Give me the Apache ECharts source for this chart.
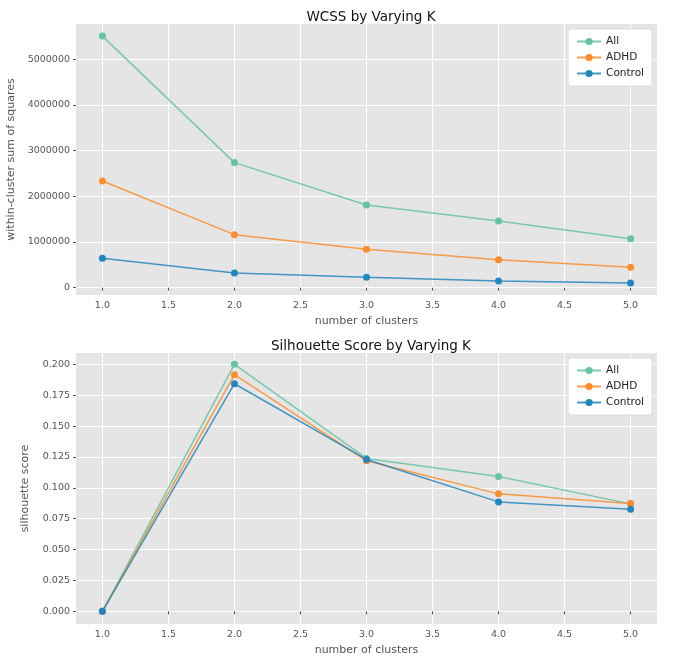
<!DOCTYPE html>
<html>
<head>
<meta charset="utf-8">
<script src="https://cdn.jsdelivr.net/npm/echarts@6/dist/echarts.min.js"></script>
<style>
  html, body { margin: 0; padding: 0; background: #fff; }
  #chart { width: 677px; height: 668px; }
</style>
</head>
<body>
<div id="chart"></div>
<script>
// number of clusters
const ks = [1, 2, 3, 4, 5];

// within-cluster sum of squares
const wcssAll = [5505000, 2737000, 1810000, 1460000, 1073000];
const wcssAdhd = [2336000, 1160000, 840000, 613000, 446000];
const wcssControl = [643000, 322000, 227000, 147000, 103000];

// silhouette score
const silAll = [0.0, 0.200, 0.1238, 0.1092, 0.0870];
const silAdhd = [0.0, 0.1916, 0.1219, 0.0951, 0.0873];
const silControl = [0.0, 0.1843, 0.1230, 0.0886, 0.0827];

const groupNames = ['All', 'ADHD', 'Control'];
const colors = ['#66c2a5', '#fc8d2e', '#2387bd'];

const xTicks = [1.0, 1.5, 2.0, 2.5, 3.0, 3.5, 4.0, 4.5, 5.0];
const wcssTicks = [0, 1000000, 2000000, 3000000, 4000000, 5000000];
const silTicks = [0, 0.025, 0.05, 0.075, 0.1, 0.125, 0.15, 0.175, 0.2];

const font = 'DejaVu Sans';
const tickColor = '#555';

function pairs(ys) {
    return ks.map((k, i) => [k, ys[i]]);
}

function makeX(gridIndex) {
    return {
        type: 'value', gridIndex: gridIndex,
        min: 0.8, max: 5.2,
        name: 'number of clusters', nameLocation: 'middle', nameGap: 21,
        nameTextStyle: { color: tickColor, fontSize: 11, fontFamily: font },
        axisLine: { show: false },
        axisTick: { show: true, length: 3, lineStyle: { color: '#555' }, customValues: xTicks },
        axisLabel: { customValues: xTicks, color: tickColor, fontSize: 9.5, fontFamily: font, margin: 6,
            formatter: v => v.toFixed(1) },
        splitLine: { show: true, lineStyle: { color: '#fff', width: 1 } }
    };
}

function makeY(gridIndex, min, max, ticks, name, gap, fmt) {
    return {
        type: 'value', gridIndex: gridIndex,
        min: min, max: max,
        name: name, nameLocation: 'middle', nameGap: gap,
        nameTextStyle: { color: tickColor, fontSize: 11, fontFamily: font },
        axisLine: { show: false },
        axisTick: { show: true, length: 3, lineStyle: { color: '#555' }, customValues: ticks },
        axisLabel: { customValues: ticks, color: tickColor, fontSize: 9.5, fontFamily: font, margin: 6,
            formatter: fmt },
        splitLine: { show: true, lineStyle: { color: '#fff', width: 1 } }
    };
}

function makeSeries(vals, axisIndex) {
    return vals.map((ys, i) => ({
        name: groupNames[i],
        type: 'line',
        xAxisIndex: axisIndex, yAxisIndex: axisIndex,
        data: pairs(ys),
        symbol: 'circle', symbolSize: 7,
        lineStyle: { width: 1.5, color: colors[i], opacity: 0.85 },
        itemStyle: { color: colors[i] },
        z: 3 + i,
        animation: false
    }));
}

function makeLegend(top) {
    return {
        data: groupNames,
        orient: 'vertical',
        right: 25, top: top,
        backgroundColor: '#fff',
        borderColor: '#ddd', borderWidth: 1, borderRadius: 3,
        padding: [7, 8, 7, 8],
        itemGap: 5, itemWidth: 24, itemHeight: 9,
        textStyle: { fontSize: 10.5, color: '#222', fontFamily: font }
    };
}

function makeGrid(top) {
    return {
        left: 76, right: 20, top: top, height: 271,
        containLabel: false, outerBoundsMode: 'none',
        backgroundColor: '#e5e5e5', show: true, borderWidth: 0
    };
}

const chart = echarts.init(document.getElementById('chart'));
chart.setOption({
    animation: false,
    backgroundColor: '#fff',
    title: [
        { text: 'WCSS by Varying K', left: 366, top: 5, textAlign: 'center',
          textStyle: { fontSize: 13.5, fontWeight: 'normal', color: '#111', fontFamily: font } },
        { text: 'Silhouette Score by Varying K', left: 366, top: 334, textAlign: 'center',
          textStyle: { fontSize: 13.5, fontWeight: 'normal', color: '#111', fontFamily: font } }
    ],
    legend: [makeLegend(29), makeLegend(358)],
    grid: [makeGrid(24), makeGrid(353)],
    xAxis: [makeX(0), makeX(1)],
    yAxis: [
        makeY(0, -160000, 5770000, wcssTicks, 'within-cluster sum of squares', 55, v => String(Math.round(v))),
        makeY(1, -0.0103, 0.2092, silTicks, 'silhouette score', 45, v => v.toFixed(3))
    ],
    series: makeSeries([wcssAll, wcssAdhd, wcssControl], 0)
        .concat(makeSeries([silAll, silAdhd, silControl], 1))
});
</script>
</body>
</html>
